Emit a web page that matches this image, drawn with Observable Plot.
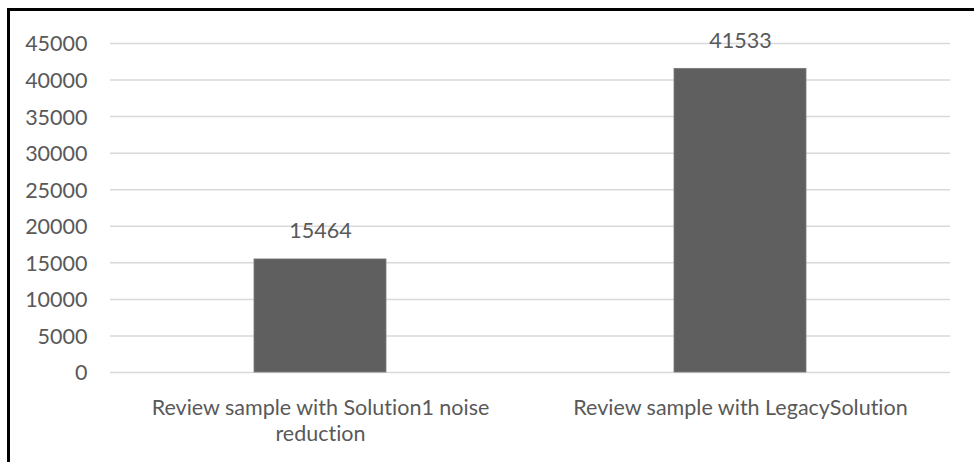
<!DOCTYPE html>
<html>
<head>
<meta charset="utf-8">
<script src="https://cdn.jsdelivr.net/npm/d3@7"></script>
<script src="https://cdn.jsdelivr.net/npm/@observablehq/plot@0.6"></script>
<style>
  html, body { margin: 0; padding: 0; background: #fff; }
  #wrap { position: relative; width: 974px; height: 462px; overflow: hidden; }
  #wrap svg text { font-variant-ligatures: none; font-feature-settings: "liga" 0, "clig" 0; }
  #border { position: absolute; left: 7px; top: 8px; width: 980px; height: 470px;
            border-left: 3px solid #000; border-top: 3px solid #000; box-sizing: border-box; pointer-events: none; }
</style>
</head>
<body>
<div id="wrap"><div id="border"></div></div>
<script>
const categories = ["Review sample with Solution1 noise reduction", "Review sample with LegacySolution"];
const categoryLabels = ["Review sample with Solution1 noise\nreduction", "Review sample with LegacySolution"];
const values = [15464, 41533];
const yTicks = [0, 5000, 10000, 15000, 20000, 25000, 30000, 35000, 40000, 45000];

const data = categories.map((c, i) => ({category: c, value: values[i]}));
const labelOf = new Map(categories.map((c, i) => [c, categoryLabels[i]]));

const textColor = "#595959";
const font = "Lato, 'Open Sans', sans-serif";
const fs = 21.5;

const chart = Plot.plot({
  width: 974,
  height: 462,
  marginLeft: 110,
  marginRight: 24,
  marginTop: 43,
  marginBottom: 90,
  style: {fontFamily: font, fontSize: fs + "px", color: textColor, background: "transparent"},
  x: {domain: categories, paddingInner: 0.686, paddingOuter: 0.343},
  y: {domain: [0, 45000]},
  marks: [
    Plot.gridY(yTicks, {stroke: "#d9d9d9", strokeOpacity: 1, strokeWidth: 1.5}),
    Plot.barY(data, {x: "category", y: "value", fill: "#5f5f5f", stroke: "#7a7a7a", strokeWidth: 0.8}),
    Plot.text(data, {x: "category", y: "value", text: d => String(d.value), dy: -28, fill: textColor, fontSize: fs}),
    Plot.axisY({ticks: yTicks, tickSize: 0, tickPadding: 23, label: null, fontSize: fs, fill: textColor, tickFormat: d => String(d), dy: 1}),
    Plot.axisX({tickSize: 0, tickPadding: 24, label: null, fontSize: fs, fill: textColor, lineHeight: 1.2, tickFormat: d => labelOf.get(d)})
  ]
});
document.getElementById("wrap").insertBefore(chart, document.getElementById("border"));
</script>
</body>
</html>
